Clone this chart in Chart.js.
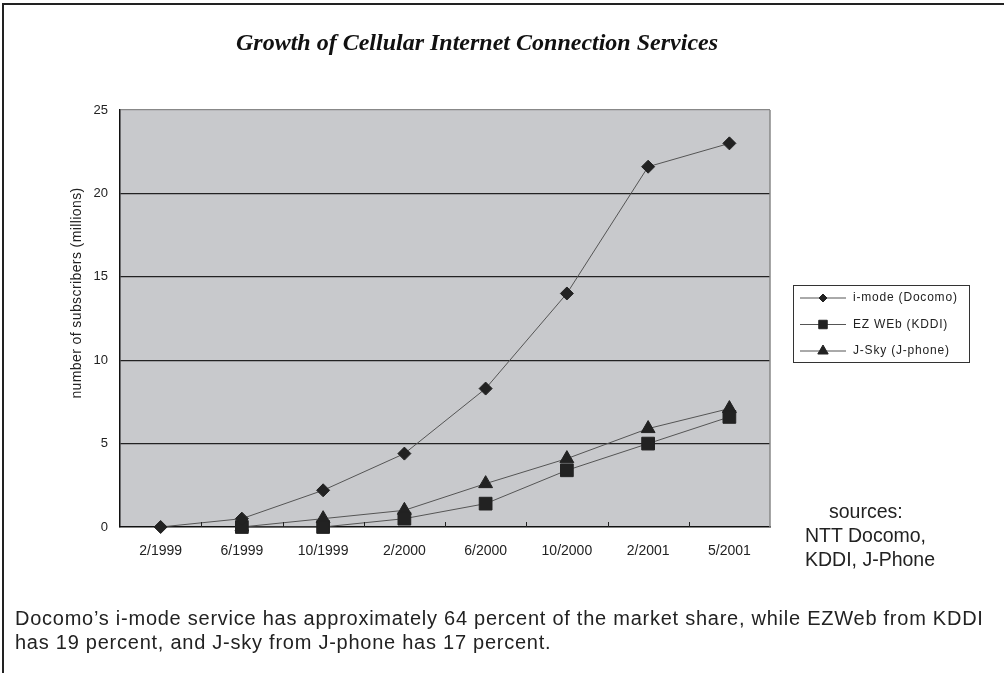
<!DOCTYPE html>
<html>
<head>
<meta charset="utf-8">
<script src="https://cdn.jsdelivr.net/npm/chart.js@4/dist/chart.umd.min.js"></script>
<style>
  html, body { margin: 0; padding: 0; background: #fff; }
  #wrap { position: relative; width: 1004px; height: 673px; overflow: hidden; }
  #frame { position: absolute; left: 2px; top: 3px; width: 1100px; height: 800px;
           border-left: 2px solid #222; border-top: 2px solid #222; }
  #title { position: absolute; left: 0; width: 954px; top: 29px; text-align: center;
           font: italic bold 24px "Liberation Serif", serif; color: #111; }
  .src { position: absolute; font: 19.5px "Liberation Sans", Arial, sans-serif; color: #222;
         white-space: nowrap; }
  #note { position: absolute; left: 15px; top: 606px; width: 1000px; white-space: nowrap;
          font: 20px "Liberation Sans", Arial, sans-serif; letter-spacing: 0.75px;
          color: #222; line-height: 24px; }
  canvas { position: absolute; left: 0; top: 0; }
</style>
</head>
<body>
<div id="wrap">
  <div id="frame"></div>
  <canvas id="chart" width="1004" height="673"></canvas>
  <div id="title">Growth of Cellular Internet Connection Services</div>
  <div class="src" style="left:829px; top:500px;">sources:</div>
  <div class="src" style="left:805px; top:524px;">NTT Docomo,</div>
  <div class="src" style="left:805px; top:548px;">KDDI, J-Phone</div>
  <div id="note">Docomo’s i-mode service has approximately 64 percent of the market share, while EZWeb from KDDI<br>has 19 percent, and J-sky from J-phone has 17 percent.</div>
</div>
<script>
// --- datos (millones de suscriptores) ---
const fechas = ['2/1999', '6/1999', '10/1999', '2/2000', '6/2000', '10/2000', '2/2001', '5/2001'];
const imode  = [0, 0.5, 2.2, 4.4, 8.3, 14.0, 21.6, 23.0];
const ezweb  = [null, 0, 0, 0.5, 1.4, 3.4, 5.0, 6.6];
const jsky   = [null, 0, 0.5, 1.0, 2.6, 4.1, 5.9, 7.1];
const etiquetas = ['i-mode (Docomo)', 'EZ WEb (KDDI)', 'J-Sky (J-phone)'];
const yTicks = [0, 5, 10, 15, 20, 25];
const tituloY = 'number of subscribers (millions)';

const fuente = '"Liberation Sans", Arial, sans-serif';

// fondo gris del área de trazado + marcas del eje x + borde derecho + título del eje y
const plotArea = {
    id: 'plotArea',
    beforeDraw(chart) {
        const { ctx, chartArea: a } = chart;
        ctx.save();
        ctx.fillStyle = '#c8c9cc';
        ctx.fillRect(a.left, a.top, a.right - a.left, a.bottom - a.top);
        ctx.restore();
    },
    afterDraw(chart) {
        const { ctx, chartArea: a } = chart;
        ctx.save();
        ctx.strokeStyle = '#888';
        ctx.lineWidth = 1.5;
        ctx.beginPath();
        ctx.moveTo(a.right, a.top);
        ctx.lineTo(a.right, a.bottom);
        ctx.stroke();
        // marcas pequeñas entre categorías
        const n = fechas.length;
        const paso = (a.right - a.left) / n;
        ctx.strokeStyle = '#222';
        ctx.lineWidth = 1;
        for (let i = 1; i < n; i++) {
            const x = Math.round(a.left + i * paso) + 0.5;
            ctx.beginPath();
            ctx.moveTo(x, a.bottom);
            ctx.lineTo(x, a.bottom - 5);
            ctx.stroke();
        }
        // título del eje y (un poco por encima del centro, como en el original)
        ctx.translate(77, 293);
        ctx.rotate(-Math.PI / 2);
        ctx.fillStyle = '#222';
        ctx.font = '14px ' + fuente;
        ctx.letterSpacing = '0.4px';
        ctx.textAlign = 'center';
        ctx.textBaseline = 'middle';
        ctx.fillText(tituloY, 0, 0);
        ctx.restore();
    }
};

// leyenda con recuadro, dibujada a mano
const leyenda = {
    id: 'leyenda',
    afterDraw(chart) {
        const ctx = chart.ctx;
        const x0 = 793, y0 = 285, w = 176, h = 77;
        ctx.save();
        ctx.fillStyle = '#fff';
        ctx.fillRect(x0, y0, w, h);
        ctx.strokeStyle = '#333';
        ctx.lineWidth = 1;
        ctx.strokeRect(x0 + 0.5, y0 + 0.5, w, h);
        const tamanos = [4, 6, 6];
        chart.data.datasets.forEach((ds, i) => {
            const y = y0 + 13 + i * 26.5;
            ctx.strokeStyle = '#555';
            ctx.lineWidth = 1;
            ctx.beginPath();
            ctx.moveTo(x0 + 7, y);
            ctx.lineTo(x0 + 53, y);
            ctx.stroke();
            ctx.fillStyle = '#222';
            ctx.strokeStyle = '#222';
            Chart.helpers.drawPoint(ctx, { pointStyle: ds.pointStyle, radius: tamanos[i], rotation: 0, borderWidth: 1 }, x0 + 30, y);
            ctx.fillStyle = '#222';
            ctx.font = '12px ' + fuente;
            ctx.letterSpacing = '0.8px';
            ctx.textBaseline = 'middle';
            ctx.fillText(ds.label, x0 + 60, y);
            ctx.letterSpacing = '0px';
        });
        ctx.restore();
    }
};

const serie = (label, data, estilo, radio) => ({
    label: label,
    data: data,
    borderColor: '#555',
    borderWidth: 1,
    pointStyle: estilo,
    pointRadius: radio,
    pointHoverRadius: radio,
    pointBackgroundColor: '#222',
    pointBorderColor: '#222',
    pointBorderWidth: 1,
    tension: 0,
    clip: false
});

new Chart(document.getElementById('chart'), {
    type: 'line',
    data: {
        labels: fechas,
        datasets: [
            serie(etiquetas[0], imode, 'rectRot', 6.5),
            serie(etiquetas[1], ezweb, 'rect', 9),
            serie(etiquetas[2], jsky, 'triangle', 8)
        ]
    },
    options: {
        responsive: false,
        animation: false,
        layout: { padding: { left: 62, top: 110, right: 234, bottom: 106 } },
        plugins: {
            legend: { display: false },
            title: { display: false },
            tooltip: { enabled: false }
        },
        scales: {
            x: {
                offset: true,
                grid: { display: true, drawOnChartArea: false, drawTicks: false },
                border: { color: '#111', width: 1.5 },
                ticks: { color: '#222', font: { family: fuente, size: 14 }, padding: 16, maxRotation: 0, autoSkip: false },
                afterFit: s => { s.height = 40; }
            },
            y: {
                min: 0,
                max: 25,
                afterBuildTicks: s => { s.ticks = yTicks.map(v => ({ value: v })); },
                grid: {
                    drawTicks: false,
                    color: c => c.tick.value === 25 ? '#888' : (c.tick.value === 0 ? 'rgba(0,0,0,0)' : '#222'),
                    lineWidth: 1.3
                },
                border: { color: '#111', width: 1.5 },
                ticks: { color: '#222', font: { family: fuente, size: 13 }, padding: 12 },
                afterFit: s => { s.width = 58; }
            }
        }
    },
    plugins: [plotArea, leyenda]
});
</script>
</body>
</html>
